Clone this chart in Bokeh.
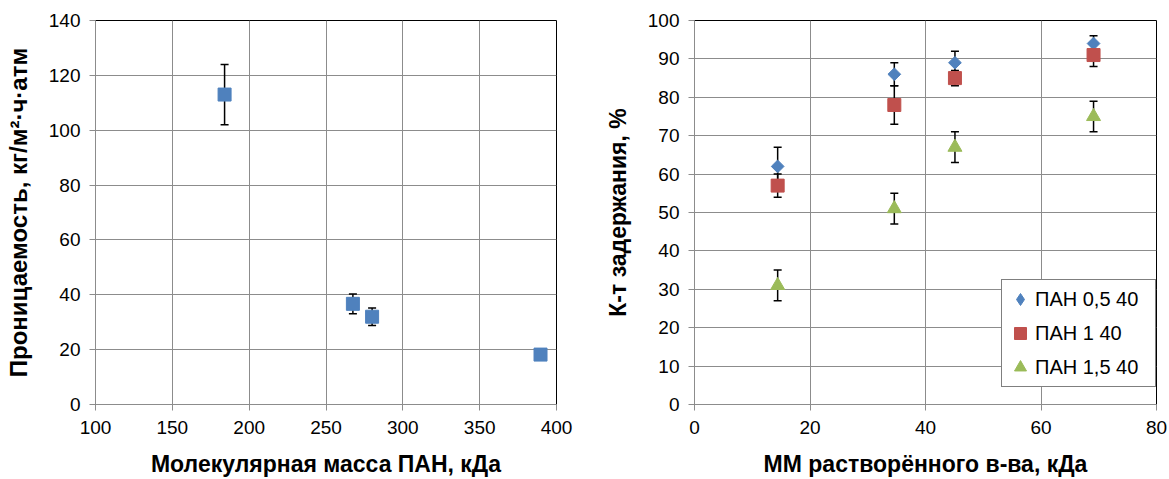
import numpy as np
from bokeh.plotting import figure
from bokeh.layouts import row
from bokeh.models import Range1d, FixedTicker, Legend, LegendItem
from bokeh.embed import file_html
from bokeh.resources import INLINE

# ---- data: left chart ----
pan_mw = [184, 267.5, 280, 389.6]
permeability = [113, 36.7, 32, 18.2]
perm_err = [11, 3.6, 3.2, 1.5]

# ---- data: right chart ----
solute_mw = [14.4, 34.6, 45.1, 69.1]
series_names = ["ПАН 0,5 40", "ПАН 1 40", "ПАН 1,5 40"]
ret_05 = [62, 86, 89, 94]
ret_05_err = [5, 3, 3, 2]
ret_1 = [57, 78, 85, 91]
ret_1_err = [3, 5, 2, 3]
ret_15 = [31, 51, 67, 75]
ret_15_err = [4, 4, 4, 4]

left_xticks = [100, 150, 200, 250, 300, 350, 400]
left_yticks = [0, 20, 40, 60, 80, 100, 120, 140]
right_xticks = [0, 20, 40, 60, 80]
right_yticks = [0, 10, 20, 30, 40, 50, 60, 70, 80, 90, 100]

BLUE = "#4F81BD"
RED = "#C0504D"
GREEN = "#9BBB59"
GRID = "#8C8C8C"
FONT = "Liberation Sans"
H = 479


def style(p, xlabel, ylabel, xticks, yticks, ytitle_size):
    p.xaxis.axis_label = xlabel
    p.yaxis.axis_label = ylabel
    p.xaxis.ticker = FixedTicker(ticks=xticks)
    p.yaxis.ticker = FixedTicker(ticks=yticks)
    for ax in (p.xaxis[0], p.yaxis[0]):
        ax.axis_label_text_font = FONT
        ax.axis_label_text_font_style = "bold"
        ax.axis_label_text_font_size = "23px"
        ax.axis_label_text_color = "black"
        ax.major_label_text_font = FONT
        ax.major_label_text_font_size = "19px"
        ax.major_label_text_color = "black"
        ax.axis_line_color = GRID
        ax.axis_line_width = 1
        ax.major_tick_line_color = GRID
        ax.major_tick_out = 6
        ax.major_tick_in = 0
        ax.minor_tick_line_color = None
    p.yaxis.axis_label_text_font_size = ytitle_size
    p.xaxis.major_label_standoff = 10
    p.xaxis.axis_label_standoff = 14
    p.yaxis.major_label_standoff = 9
    p.yaxis.axis_label_standoff = 14
    p.grid.grid_line_color = GRID
    p.grid.grid_line_width = 1
    p.outline_line_color = "black"
    p.outline_line_width = 1
    p.background_fill_color = "white"
    p.border_fill_color = "white"


def errbars(p, x, y, e):
    lo = [yy - ee for yy, ee in zip(y, e)]
    hi = [yy + ee for yy, ee in zip(y, e)]
    p.segment(x0=x, y0=lo, x1=x, y1=hi, line_color="black", line_width=1.5)
    p.scatter(x=x, y=hi, marker="dash", size=8, line_color="black", line_width=1.5)
    p.scatter(x=x, y=lo, marker="dash", size=8, line_color="black", line_width=1.5)


# ---- left figure ----
p1 = figure(width=586, height=H, output_backend="svg", toolbar_location=None,
            x_range=Range1d(100, 400), y_range=Range1d(0, 140),
            min_border_left=95, min_border_right=30, min_border_top=20, min_border_bottom=75)
style(p1, "Молекулярная масса ПАН, кДа", "Проницаемость, кг/м²·ч·атм",
      left_xticks, left_yticks, "24px")
errbars(p1, pan_mw, permeability, perm_err)
p1.scatter(x=pan_mw, y=permeability, marker="square", size=13, fill_color=BLUE, line_color=BLUE)

# ---- right figure ----
p2 = figure(width=581, height=H, output_backend="svg", toolbar_location=None,
            x_range=Range1d(0, 80), y_range=Range1d(0, 100),
            min_border_left=108, min_border_right=11, min_border_top=20, min_border_bottom=75)
style(p2, "ММ растворённого в-ва, кДа", "К-т задержания, %",
      right_xticks, right_yticks, "23px")

# (values, errors, colour, marker, size, angle)
series = [(ret_05, ret_05_err, BLUE, "square", 9, np.pi / 4),
          (ret_1, ret_1_err, RED, "square", 13, 0.0),
          (ret_15, ret_15_err, GREEN, "triangle", 14, 0.0)]
for vals, errs, col, mk, sz, ang in series:
    errbars(p2, solute_mw, vals, errs)
renderers = []
for vals, errs, col, mk, sz, ang in series:
    r = p2.scatter(x=solute_mw, y=vals, marker=mk, size=sz, angle=ang,
                   fill_color=col, line_color=col)
    renderers.append(r)

# legend glyph for the diamond series (legend glyphs are never rotated)
diamond_key = p2.scatter(x=solute_mw, y=ret_05, marker="diamond", size=12,
                         fill_color=BLUE, line_color=BLUE, visible=False)
legend_renderers = [diamond_key, renderers[1], renderers[2]]

legend = Legend(items=[LegendItem(label=n, renderers=[r]) for n, r in zip(series_names, legend_renderers)],
                location=(307, 17), margin=0, padding=3, spacing=2,
                label_height=32, glyph_height=32, glyph_width=30, label_standoff=0,
                label_width=117, label_text_font=FONT, label_text_font_size="20px",
                label_text_color="black", border_line_color="black", border_line_width=1,
                background_fill_color="white", background_fill_alpha=1,
                inactive_fill_alpha=0)
p2.add_layout(legend)

layout = row(p1, p2)
open("out.html", "w").write(file_html(layout, INLINE))
